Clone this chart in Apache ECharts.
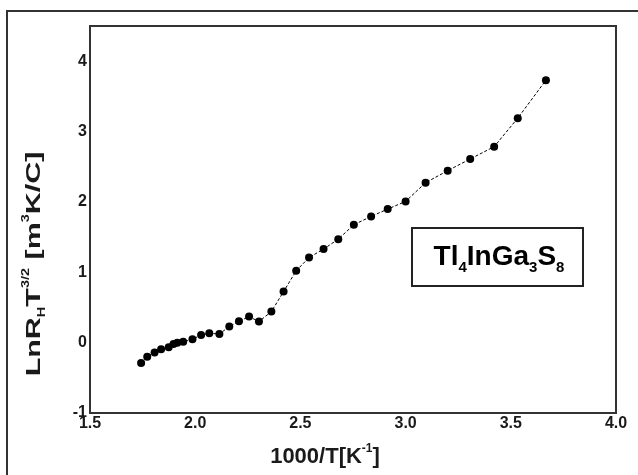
<!DOCTYPE html>
<html>
<head>
<meta charset="utf-8">
<script src="https://cdn.jsdelivr.net/npm/echarts@6/dist/echarts.min.js"></script>
<style>
    html, body { margin: 0; padding: 0; background: #fff; }
    #chart { width: 638px; height: 475px; }
</style>
</head>
<body>
<div id="chart"></div>
<script>
// 1000/T values (K^-1)
const invTemp = [
    1.743, 1.772, 1.807, 1.838, 1.874, 1.897, 1.915, 1.943, 1.987, 2.028,
    2.067, 2.115, 2.162, 2.208, 2.256, 2.303, 2.362, 2.420, 2.480, 2.541,
    2.610, 2.680, 2.754, 2.836, 2.915, 3.000, 3.095, 3.200, 3.307, 3.421,
    3.533, 3.667
];
// LnR_H T^3/2
const lnRh = [
    -0.29, -0.20, -0.14, -0.095, -0.066, -0.02, 0.0, 0.014, 0.047, 0.109,
    0.133, 0.123, 0.228, 0.304, 0.370, 0.299, 0.441, 0.726, 1.020, 1.21,
    1.329, 1.471, 1.675, 1.794, 1.898, 2.007, 2.273, 2.444, 2.61, 2.785,
    3.19, 3.73
];
const xTicks = [1.5, 2.0, 2.5, 3.0, 3.5, 4.0];
const yTicks = [-1, 0, 1, 2, 3, 4];

const font = 'Liberation Sans, Arial, sans-serif';
const ink = '#1a1a1a';

const chart = echarts.init(document.getElementById('chart'));

chart.setOption({
    animation: false,
    backgroundColor: '#fff',
    grid: {
        left: 90,
        top: 26,
        right: 22,
        bottom: 62,
        show: true,
        borderColor: '#333',
        borderWidth: 2
    },
    xAxis: {
        type: 'value',
        min: xTicks[0],
        max: xTicks[xTicks.length - 1],
        interval: 0.5,
        axisLine: { show: false },
        axisTick: { show: false },
        splitLine: { show: false },
        axisLabel: {
            margin: 3,
            color: ink,
            fontFamily: font,
            fontWeight: 'bold',
            fontSize: 16,
            formatter: v => v.toFixed(1)
        },
        name: '{b|1000/T[K}{sup|-1}{b|]}',
        nameLocation: 'middle',
        nameGap: 30,
        nameTextStyle: {
            padding: [0, 56, 0, 0],
            rich: {
                b: { fontFamily: font, fontWeight: 'bold', fontSize: 22, color: ink, lineHeight: 28 },
                sup: { fontFamily: font, fontWeight: 'bold', fontSize: 12, color: ink, verticalAlign: 'top', lineHeight: 28 }
            }
        }
    },
    yAxis: {
        type: 'value',
        min: yTicks[0],
        max: 4.5,
        interval: 1,
        axisLine: { show: false },
        axisTick: { show: false },
        splitLine: { show: false },
        axisLabel: {
            margin: 3,
            color: ink,
            fontFamily: font,
            fontWeight: 'bold',
            fontSize: 16,
            formatter: v => yTicks.includes(v) ? String(v) : ''
        }
    },
    series: [{
        type: 'line',
        data: invTemp.map((x, i) => [x, lnRh[i]]),
        symbol: 'circle',
        symbolSize: 8,
        itemStyle: { color: '#000' },
        lineStyle: { color: '#000', width: 1, type: [3, 2] }
    }],
    graphic: [
        {
            type: 'rect',
            shape: { x: 7, y: 11, width: 700, height: 500 },
            style: { fill: 'none', stroke: '#333', lineWidth: 2 },
            silent: true
        },
        // y axis title (letter-spaced in the original, so stretched along the text)
        {
            type: 'text',
            x: 34,
            y: 264,
            rotation: Math.PI / 2,
            scaleX: 1.45,
            style: {
                text: '{b|LnR}{sub|H}{b|T}{sup|3/2}{b| [m}{sup|3}{b|K/C]}',
                align: 'center',
                verticalAlign: 'middle',
                rich: {
                    b: { fontFamily: font, fontWeight: 'bold', fontSize: 21, fill: ink, lineHeight: 26 },
                    sup: { fontFamily: font, fontWeight: 'bold', fontSize: 10, fill: ink, verticalAlign: 'top', lineHeight: 26 },
                    sub: { fontFamily: font, fontWeight: 'bold', fontSize: 10, fill: ink, verticalAlign: 'bottom', lineHeight: 26 }
                }
            }
        },
        {
            type: 'rect',
            shape: { x: 412, y: 228, width: 171, height: 58 },
            style: { fill: '#fff', stroke: '#222', lineWidth: 2 },
            z: 10
        },
        {
            type: 'text',
            x: 499,
            y: 257,
            z: 11,
            style: {
                text: '{a|Tl}{s|4}{a|InGa}{s|3}{a|S}{s|8}',
                align: 'center',
                verticalAlign: 'middle',
                rich: {
                    a: { fontFamily: font, fontWeight: 'bold', fontSize: 28, fill: '#000', lineHeight: 36 },
                    s: { fontFamily: font, fontWeight: 'bold', fontSize: 15, fill: '#000', verticalAlign: 'bottom', lineHeight: 36 }
                }
            }
        }
    ]
});
</script>
</body>
</html>
